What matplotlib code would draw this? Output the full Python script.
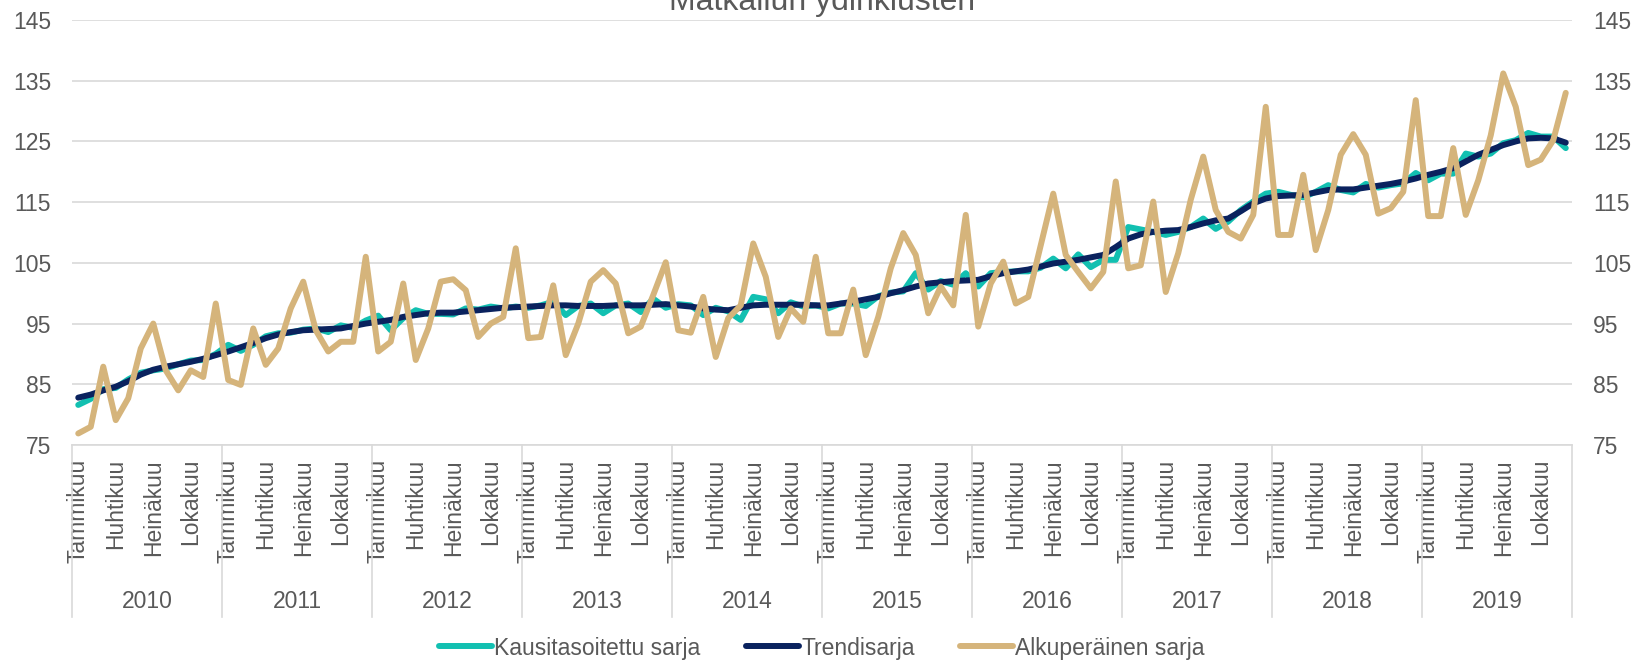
import matplotlib
matplotlib.use("Agg")
import matplotlib.pyplot as plt
import matplotlib.transforms as mtransforms
from matplotlib.lines import Line2D

plt.rcParams['font.family'] = ['Liberation Sans', 'DejaVu Sans']

title = "Matkailun ydinklusteri"
years = ["2010", "2011", "2012", "2013", "2014", "2015", "2016", "2017", "2018", "2019"]
month_labels = ["Tammikuu", "", "", "Huhtikuu", "", "", "Heinäkuu", "", "", "Lokakuu", "", ""]
series_names = ["Kausitasoitettu sarja", "Trendisarja", "Alkuperäinen sarja"]

kausitasoitettu = [
    81.6, 82.6, 84.2, 84.4, 85.8, 86.9, 87.3, 87.6, 88.3, 88.9, 89.0, 90.0,
    91.5, 90.5, 91.5, 92.9, 93.4, 93.5, 94.0, 94.2, 93.6, 94.7, 94.3, 95.5,
    96.3, 93.9, 95.9, 97.2, 96.6, 96.6, 96.5, 97.5, 97.3, 97.8, 97.5, 97.8,
    97.6, 98.0, 98.6, 96.4, 97.9, 98.3, 96.7, 98.0, 98.3, 96.9, 99.1, 97.6,
    98.2, 98.0, 96.4, 97.6, 97.0, 95.6, 99.4, 99.0, 96.7, 98.5, 97.8, 98.0,
    97.5, 98.3, 98.3, 97.9, 99.5, 100.1, 100.3, 103.3, 100.6, 102.0, 101.4, 103.3,
    101.1, 103.3, 103.5, 103.6, 103.6, 104.2, 105.7, 104.1, 106.4, 104.3, 105.5, 105.5,
    110.9, 110.5, 110.1, 109.6, 110.1, 110.9, 112.3, 110.6, 111.8, 113.7, 115.1, 116.4,
    116.7, 116.2, 115.8, 116.7, 117.8, 117.0, 116.6, 118.0, 117.4, 117.8, 118.1, 119.8,
    118.6, 119.7, 119.7, 123.0, 122.5, 123.0, 124.7, 125.2, 126.4, 125.8, 125.8, 123.9,
]

trendi = [
    82.8, 83.3, 84.0, 84.6, 85.5, 86.6, 87.4, 87.9, 88.3, 88.7, 89.2, 89.8,
    90.4, 91.1, 91.8, 92.6, 93.2, 93.6, 93.9, 94.0, 94.1, 94.2, 94.6, 95.0,
    95.3, 95.6, 96.1, 96.4, 96.7, 96.8, 96.8, 97.0, 97.2, 97.4, 97.6, 97.7,
    97.8, 97.9, 98.0, 98.0, 97.9, 97.9, 97.9, 98.0, 98.0, 98.0, 98.1, 98.2,
    98.0, 97.8, 97.5, 97.3, 97.2, 97.6, 98.0, 98.1, 98.1, 98.1, 98.1, 98.0,
    98.0, 98.3, 98.6, 99.0, 99.4, 100.0, 100.5, 101.1, 101.6, 101.8, 102.0, 102.1,
    102.2, 102.8, 103.3, 103.6, 103.9, 104.4, 104.9, 105.2, 105.5, 105.9, 106.3, 107.6,
    109.0, 109.7, 110.1, 110.3, 110.4, 110.9, 111.5, 112.0, 112.3, 113.5, 114.8, 115.6,
    116.0, 116.1, 116.2, 116.6, 117.0, 117.1, 117.1, 117.4, 117.7, 118.0, 118.4, 118.9,
    119.5, 120.0, 120.6, 121.7, 122.8, 123.6, 124.4, 125.0, 125.5, 125.6, 125.5, 124.8,
]

alkuperainen = [
    76.9, 78.0, 87.9, 79.1, 82.7, 90.9, 95.0, 87.3, 84.0, 87.3, 86.2, 98.3,
    85.7, 84.9, 94.2, 88.2, 90.9, 97.5, 101.9, 93.9, 90.4, 92.0, 92.0, 106.0,
    90.4, 92.0, 101.6, 89.0, 94.2, 101.9, 102.3, 100.5, 92.8, 95.0, 96.1, 107.4,
    92.6, 92.8, 101.3, 89.8, 95.0, 101.9, 103.8, 101.6, 93.4, 94.5, 99.7, 105.1,
    93.9, 93.5, 99.4, 89.5, 95.9, 98.0, 108.2, 102.7, 92.8, 97.5, 95.3, 106.0,
    93.4, 93.4, 100.6, 89.8, 96.1, 104.1, 109.9, 106.3, 96.7, 101.1, 98.0, 112.9,
    94.5, 101.6, 105.2, 98.3, 99.4, 107.9, 116.4, 106.3, 103.5, 100.8, 103.5, 118.4,
    104.1, 104.6, 115.1, 100.2, 106.6, 115.4, 122.5, 113.7, 110.1, 109.0, 112.9, 130.7,
    109.6, 109.6, 119.5, 107.1, 113.7, 122.8, 126.2, 122.8, 113.1, 114.0, 116.7, 131.8,
    112.7, 112.7, 123.9, 112.9, 118.6, 126.0, 136.2, 130.7, 121.1, 122.0, 125.2, 133.0,
]

yticks = [75, 85, 95, 105, 115, 125, 135, 145]

TEAL = "#12C0B1"
NAVY = "#0A225E"
GOLD = "#D5B47B"
GRID = "#D9D9D9"
TXT = "#595959"
FS = 16.5

W, H = 1634, 662
fig = plt.figure(figsize=(W / 100, H / 100), dpi=100)
ax = fig.add_axes([72 / W, 1 - 445 / H, 1500 / W, 425 / H])

n = len(alkuperainen)
x = list(range(n))
lw = 4.3
ax.plot(x, kausitasoitettu, color=TEAL, lw=lw, solid_joinstyle='round', solid_capstyle='round', zorder=3)
ax.plot(x, trendi, color=NAVY, lw=lw, solid_joinstyle='round', solid_capstyle='round', zorder=4)
ax.plot(x, alkuperainen, color=GOLD, lw=lw, solid_joinstyle='round', solid_capstyle='round', zorder=5)

ax.set_xlim(-0.5, n - 0.5)
ax.set_ylim(75, 145)
ax.set_yticks(yticks)
ax.yaxis.grid(True, color=GRID, lw=1.2)
ax.set_axisbelow(True)
for s in ["top", "left", "right"]:
    ax.spines[s].set_visible(False)
ax.spines["bottom"].set_color(GRID)
ax.spines["bottom"].set_linewidth(1.2)

ax.tick_params(axis='y', which='both', length=0, labelsize=FS, labelcolor=TXT,
               pad=15, labelleft=True, labelright=True)

# month labels
xt = list(range(0, n, 3))
ax.set_xticks(xt)
ax.set_xticklabels([month_labels[i % 12] for i in xt], rotation=90, va='top', ha='center')
ax.tick_params(axis='x', length=0, labelsize=FS, labelcolor=TXT, pad=10)

# year labels and separators
trans = mtransforms.blended_transform_factory(ax.transData, ax.transAxes)
y_year = -(602 - 445) / 425
y_sep = -(617 - 445) / 425
for k, yr in enumerate(years):
    ax.text(12 * k + 5.5, y_year, yr, transform=trans, ha='center', va='center',
            fontsize=FS, color=TXT)
for k in range(len(years) + 1):
    ax.plot([12 * k - 0.5, 12 * k - 0.5], [0, y_sep], transform=trans, color=GRID,
            lw=1.2, clip_on=False, zorder=1)

fig.text(822 / W, 1 - 10 / H, title, ha='center', va='baseline', fontsize=23, color=TXT)

handles = [Line2D([], [], color=c, lw=lw, solid_capstyle='round') for c in (TEAL, NAVY, GOLD)]
fig.legend(handles, series_names, loc='center', bbox_to_anchor=(822 / W, 1 - 648 / H),
           ncol=3, frameon=False, fontsize=FS, handlelength=2.3, handletextpad=0.1,
           columnspacing=2.0, labelcolor=TXT)

fig.savefig("out.png", dpi=100)
